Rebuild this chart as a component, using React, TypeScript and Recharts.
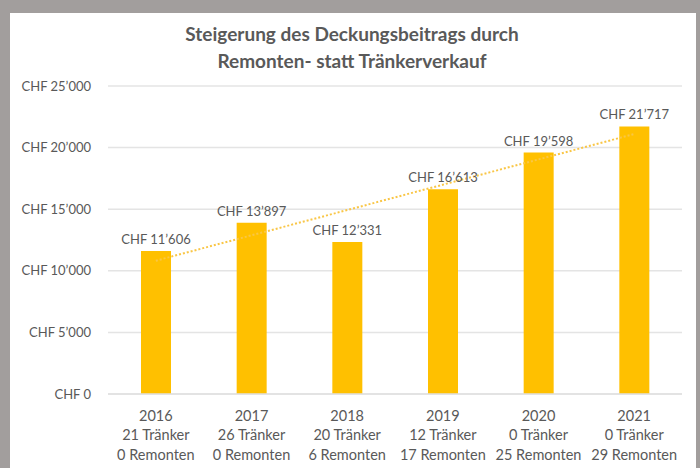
import React from 'react';
import { ComposedChart, Bar, Line, XAxis, YAxis, CartesianGrid, LabelList } from 'recharts';

const years = ['2016', '2017', '2018', '2019', '2020', '2021'];
const traenker = [21, 26, 20, 12, 0, 0];
const remonten = [0, 0, 6, 17, 25, 29];
const beitrag = [11606, 13897, 12331, 16613, 19598, 21717];
// linear trend
const trend = [10820, 12880, 14930, 16990, 19040, 21100];
const yTicks = [0, 5000, 10000, 15000, 20000, 25000];

const data = years.map((year, i) => ({
  year,
  traenker: traenker[i],
  remonten: remonten[i],
  value: beitrag[i],
  trend: trend[i],
}));

const FONT = 'Lato, "Open Sans", sans-serif';
const TEXT = '#595959';

const chf = (v: number) => {
  const s = String(Math.round(v));
  return 'CHF ' + s.replace(/\B(?=(\d{3})+(?!\d))/g, '\u2019');
};

const XTick = (props: any) => {
  const { x, y, payload, index } = props;
  const i = index ?? years.indexOf(payload.value);
  return (
    <g transform={`translate(${x},${y})`}>
      <text textAnchor="middle" fill={TEXT} fontSize={14.5} fontFamily={FONT}>
        <tspan x={0} dy={18.5}>{payload.value}</tspan>
        <tspan x={0} dy={19.5}>{`${traenker[i]} Tränker`}</tspan>
        <tspan x={0} dy={19.5}>{`${remonten[i]} Remonten`}</tspan>
      </text>
    </g>
  );
};

const ValueLabel = (props: any) => {
  const { x, y, width, value } = props;
  return (
    <text x={x + width / 2} y={y - 7} textAnchor="middle" fill={TEXT} fontSize={13} fontFamily={FONT}>
      {chf(Number(value))}
    </text>
  );
};

const App: React.FC = () => {
  return (
    <div style={{ position: 'absolute', left: 0, top: 0, width: 700, height: 468, background: '#a29e9d', overflow: 'hidden' }}>
      <div style={{ position: 'absolute', left: 10, top: 13, width: 686, height: 460, background: '#ffffff' }}>
        <div
          style={{
            position: 'absolute',
            left: 0,
            top: 7,
            width: 684,
            textAlign: 'center',
            fontFamily: FONT,
            fontWeight: 700,
            fontSize: 19,
            lineHeight: '27px',
            color: TEXT,
          }}
        >
          Steigerung des Deckungsbeitrags durch
          <br />
          Remonten- statt Tränkerverkauf
        </div>
        <ComposedChart
          width={686}
          height={455}
          data={data}
          margin={{ top: 73, right: 14, bottom: 0, left: 0 }}
          style={{ position: 'absolute', left: 0, top: 0 }}
        >
          <CartesianGrid vertical={false} stroke="#e4e4e4" strokeWidth={1.5} />
          <XAxis
            dataKey="year"
            tick={<XTick />}
            tickLine={false}
            axisLine={{ stroke: '#e0e0e0', strokeWidth: 1.5 }}
            interval={0}
            height={74}
          />
          <YAxis
            domain={[0, 25000]}
            ticks={yTicks}
            tickFormatter={chf}
            tickLine={false}
            axisLine={false}
            width={98}
            tickSize={0}
            tickMargin={17}
            tick={{ fill: TEXT, fontSize: 13, fontFamily: FONT }}
          />
          <Line
            dataKey="trend"
            stroke="#f9c646"
            strokeWidth={2}
            strokeDasharray="2 2"
            dot={false}
            activeDot={false}
            isAnimationActive={false}
          />
          <Bar dataKey="value" fill="#ffc000" barSize={30} isAnimationActive={false}>
            <LabelList dataKey="value" content={<ValueLabel />} />
          </Bar>
        </ComposedChart>
      </div>
    </div>
  );
};

export default App;
